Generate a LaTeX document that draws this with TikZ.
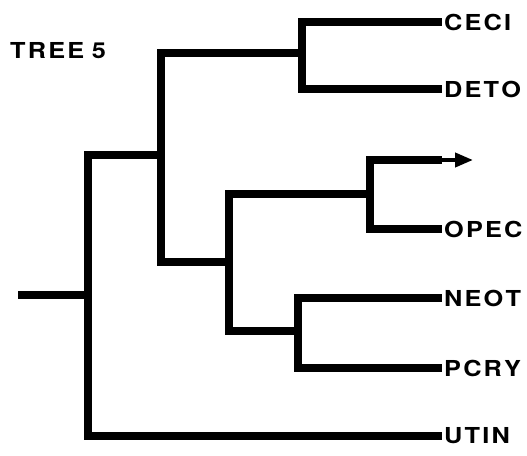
\documentclass[tikz,border=0pt]{standalone}
\usepackage{fontspec}
\newfontfamily\labfont[FakeStretch=1.15]{TeX Gyre Heros}
\usetikzlibrary{arrows.meta}
\makeatletter
% letter-spaced capitals for the taxon labels
\newcommand\spreadcaps[1]{\@tfor\sc@ch:=#1\do{\sc@ch\kern0.1em}\unkern}
\makeatother
\tikzset{
  branch/.style={line width=8.5pt, line join=miter, line cap=butt},
  lab/.style={font=\labfont\bfseries\fontsize{22}{22}\selectfont, inner sep=2pt, anchor=west},
  tip/.style={line width=4pt, -{Triangle[length=18pt,width=14pt]}}
}
\begin{document}
\begin{tikzpicture}[x=1pt,y=-1pt]
\useasboundingbox (0,0) rectangle (527,455);

% title
\node[lab] (title) at (8,51) {\spreadcaps{TREE}\hspace{0.35em}5};

% internal nodes of the tree
\coordinate (stub) at (18,295);
\coordinate (nroot) at (88,295);
\coordinate (nA) at (161,155);
\coordinate (nCD) at (302,53);
\coordinate (nB) at (229,262);
\coordinate (nX) at (370,194);
\coordinate (nNP) at (298,331);
\coordinate (arrowbase) at (442,160);
\coordinate (arrowend) at (473,160);

% terminal taxa
\node[lab] (ceci) at (442,22) {\spreadcaps{CECI}};
\node[lab] (deto) at (442,89) {\spreadcaps{DETO}};
\node[lab] (opec) at (442,229) {\spreadcaps{OPEC}};
\node[lab] (neot) at (442,298) {\spreadcaps{NEOT}};
\node[lab] (pcry) at (442,368) {\spreadcaps{PCRY}};
\node[lab] (utin) at (442,436) {\spreadcaps{UTIN}};

% branches
\draw[branch] (stub) -- (nroot);
\draw[branch] (nroot) |- (nA);
\draw[branch] (nroot) |- (utin.west);
\draw[branch] (nA) |- (nCD);
\draw[branch] (nA) |- (nB);
\draw[branch] (nCD) |- (ceci.west);
\draw[branch] (nCD) |- (deto.west);
\draw[branch] (nB) |- (nX);
\draw[branch] (nB) |- (nNP);
\draw[branch] (nX) |- (arrowbase);
\draw[branch] (nX) |- (opec.west);
\draw[branch] (nNP) |- (neot.west);
\draw[branch] (nNP) |- (pcry.west);
\draw[tip] (arrowbase) -- (arrowend);
\end{tikzpicture}
\end{document}
